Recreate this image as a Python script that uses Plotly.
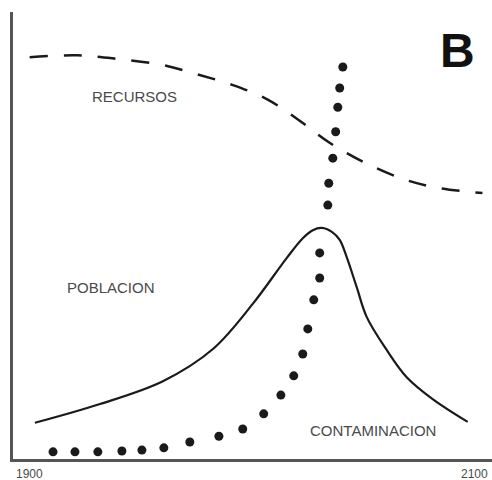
import plotly.graph_objects as go

FONT = "Liberation Sans, Arial, sans-serif"
INK = "#1a1a1a"
AXIS = "#555555"
LABEL = "#4a4a4a"

# recursos (dashed)
rec_years = [1907, 1927, 1944, 1963, 1977, 1992, 2006.5, 2020, 2033, 2048, 2065, 2079, 2097]
rec_vals = [89.9, 90.3, 89.5, 88.1, 86.1, 83.7, 80.5, 75.8, 70.7, 66.2, 62.4, 60.6, 59.5]

# poblacion (solid)
pob_years = [1909.2, 1936.5, 1962.9, 1983.9, 2000.6, 2014.9, 2021.6, 2025.8, 2029.6,
             2033.8, 2037.1, 2040, 2044.2, 2048.4, 2056.8, 2065.2, 2076.1, 2090.8]
pob_vals = [8.1, 12.3, 17.4, 24.6, 34.7, 45.0, 49.4, 51.2, 51.7,
            50.8, 49.0, 45.2, 38.5, 31.8, 24.4, 18.3, 13.4, 8.3]

# contaminacion (dots)
con_years = [1916.8, 1926, 1935.6, 1945.7, 1954.1, 1963.3, 1974.2, 1986.4, 1996.4, 2005.2,
             2012.4, 2017.8, 2021.6, 2023.7, 2026.2, 2028.7, 2028.7, 2032.1, 2032.5, 2034.2,
             2035.4, 2036.3, 2037.1, 2038.4]
con_vals = [1.6, 1.6, 1.6, 1.8, 2.0, 2.5, 3.8, 5.1, 6.7, 10.1,
            14.3, 18.6, 23.5, 29.1, 35.6, 40.5, 46.1, 56.8, 61.7, 67.3,
            73.2, 78.7, 83.0, 87.7]

fig = go.Figure()
fig.add_trace(go.Scatter(x=rec_years, y=rec_vals, mode="lines", line_shape="spline",
    line=dict(color=INK, width=2.5, dash="18px,16px")))
fig.add_trace(go.Scatter(x=pob_years, y=pob_vals, mode="lines", line_shape="spline",
    line=dict(color=INK, width=2.2, smoothing=1)))
fig.add_trace(go.Scatter(x=con_years, y=con_vals, mode="markers",
    marker=dict(color=INK, size=9, line=dict(width=0))))

labels = [("RECURSOS", 1951, 81.1), ("POBLACION", 1941, 38.3), ("CONTAMINACION", 2051, 6.3)]
for txt, x, y in labels:
    fig.add_annotation(text=txt, x=x, y=y, showarrow=False,
        font=dict(size=15, color=LABEL, family=FONT))

fig.add_annotation(text="<b>B</b>", x=2086.5, y=91.5, showarrow=False,
    font=dict(size=48, color="#111111", family=FONT))
fig.add_annotation(text="1900", xref="paper", yref="paper", x=0, y=0, xanchor="left",
    yanchor="top", xshift=1, yshift=-6, showarrow=False,
    font=dict(size=12, color=LABEL, family=FONT))
fig.add_annotation(text="2100", xref="paper", yref="paper", x=1, y=0, xanchor="right",
    yanchor="top", xshift=-2, yshift=-6, showarrow=False,
    font=dict(size=12, color=LABEL, family=FONT))

fig.update_layout(
    width=492, height=480, showlegend=False,
    plot_bgcolor="white", paper_bgcolor="white",
    margin=dict(l=13, r=0, t=12, b=21),
    xaxis=dict(range=[1900, 2101], showgrid=False, zeroline=False, showticklabels=False,
               ticks="", showline=True, linecolor=AXIS, linewidth=2.5),
    yaxis=dict(range=[0, 100], showgrid=False, zeroline=False, showticklabels=False,
               ticks="", showline=True, linecolor=AXIS, linewidth=2.5),
)
# page body has a default margin, drop it so the chart sits at the window corner
fig.write_html("out.html", config={"displayModeBar": False},
               post_script="document.body.style.margin='0';")
